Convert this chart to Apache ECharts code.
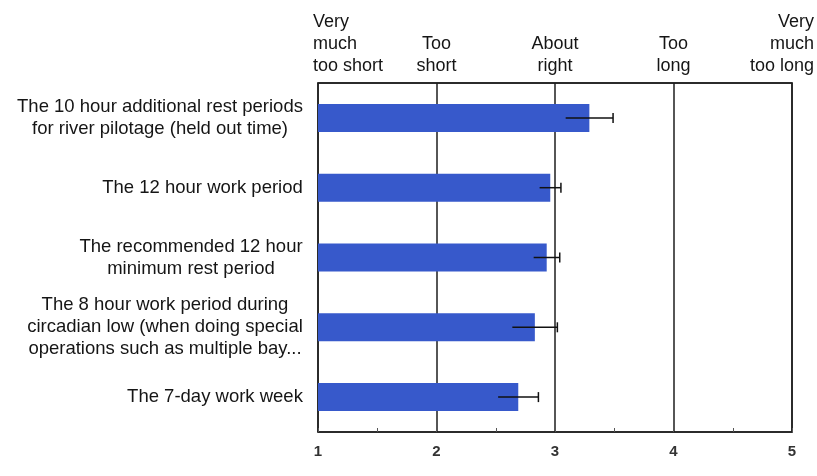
<!DOCTYPE html>
<html><head><meta charset="utf-8">
<script src="https://cdn.jsdelivr.net/npm/echarts@6/dist/echarts.min.js"></script>
<style>html,body{margin:0;padding:0;background:#fff}#c{width:817px;height:476px}</style>
</head><body><div id="c"></div>
<script>
const categories = [
  "The 10 hour additional rest periods\nfor river pilotage (held out time)",
  "The 12 hour work period",
  "The recommended 12 hour\nminimum rest period",
  "The 8 hour work period during\ncircadian low (when doing special\noperations such as multiple bay...",
  "The 7-day work week"
];
const meanValues = [3.29, 2.96, 2.93, 2.83, 2.69];
const errorValues = [0.20, 0.09, 0.11, 0.19, 0.17];
const xTicks = [1, 2, 3, 4, 5];
const topLabels = ["Very\nmuch\ntoo short", "Too\nshort", "About\nright", "Too\nlong", "Very\nmuch\ntoo long"];

const FONT = '"Liberation Sans", Arial, sans-serif';
const LEFT_SIZE = 18.5;
const ctx = document.createElement('canvas').getContext('2d');
ctx.font = LEFT_SIZE + 'px ' + FONT;
const leftRich = {};
categories.forEach((c, i) => {
  const w = Math.max.apply(null, c.split('\n').map(l => ctx.measureText(l).width));
  leftRich['s' + i] = { width: Math.ceil(w), align: 'center', fontSize: LEFT_SIZE, lineHeight: 22, fontFamily: FONT, color: '#151515' };
});

const errData = meanValues.map((m, i) => [i, m, errorValues[i]]);

const chart = echarts.init(document.getElementById('c'), null, { renderer: 'canvas' });
chart.setOption({
  backgroundColor: '#ffffff',
  animation: false,
  grid: { left: 318, right: 24, top: 83, bottom: 44, show: true, borderColor: '#1e1e1e', borderWidth: 1.5, backgroundColor: 'transparent' },
  xAxis: [
    {
      type: 'value', position: 'bottom', min: xTicks[0], max: xTicks[xTicks.length - 1], interval: 1,
      axisLine: { show: true, lineStyle: { color: '#1e1e1e', width: 1.5 } },
      axisTick: { show: true, inside: true, length: 4, lineStyle: { color: '#555' } },
      minorTick: { show: true, splitNumber: 2, length: 4, lineStyle: { color: '#555', width: 1 } },
      splitLine: { show: true, lineStyle: { color: '#1e1e1e', width: 1.5 } },
      axisLabel: {
        margin: 12, color: '#333', fontSize: 15, fontWeight: 'bold', fontFamily: FONT,
        formatter: v => xTicks.indexOf(v) >= 0 ? String(v) : ''
      }
    },
    {
      type: 'value', position: 'top', min: xTicks[0], max: xTicks[xTicks.length - 1], interval: 1,
      axisLine: { show: true, lineStyle: { color: '#1e1e1e', width: 1.5 } },
      axisTick: { show: false },
      splitLine: { show: false },
      axisLabel: {
        margin: 6, color: '#151515', fontSize: 18, lineHeight: 22, fontFamily: FONT,
        showMinLabel: true, showMaxLabel: true,
        alignMinLabel: 'left', alignMaxLabel: 'right',
        formatter: function (v) {
          const i = xTicks.indexOf(v);
          if (i < 0) return '';
          const key = i === 0 ? 'l' : (i === xTicks.length - 1 ? 'r' : 'c');
          return topLabels[i].split('\n').map(l => '{' + key + '|' + l + '}').join('\n');
        },
        rich: {
          l: { align: 'left', padding: [0, 0, 0, -5], fontSize: 18, lineHeight: 22, fontFamily: FONT, color: '#151515' },
          c: { align: 'center', fontSize: 18, lineHeight: 22, fontFamily: FONT, color: '#151515' },
          r: { align: 'right', padding: [0, -22, 0, 0], fontSize: 18, lineHeight: 22, fontFamily: FONT, color: '#151515' }
        }
      }
    }
  ],
  yAxis: {
    type: 'category', inverse: true, data: categories,
    axisLine: { show: false }, axisTick: { show: false }, splitLine: { show: false },
    axisLabel: {
      margin: 15, interval: 0,
      formatter: function (v, idx) {
        return v.split('\n').map(l => '{s' + idx + '|' + l + '}').join('\n');
      },
      rich: leftRich
    }
  },
  series: [
    {
      type: 'bar', data: meanValues, barWidth: 28, xAxisIndex: 0,
      itemStyle: { color: '#3759cb' }, z: 2
    },
    {
      type: 'custom', xAxisIndex: 0, data: errData, z: 5,
      encode: { x: 1, y: 0 },
      renderItem: function (params, api) {
        const idx = api.value(0), m = api.value(1), e = api.value(2);
        const p0 = api.coord([m - e, idx]);
        const p1 = api.coord([m + e, idx]);
        const st = { stroke: '#111', lineWidth: 1.5 };
        return {
          type: 'group',
          children: [
            { type: 'line', shape: { x1: p0[0], y1: p0[1], x2: p1[0], y2: p1[1] }, style: st },
            { type: 'line', shape: { x1: p1[0], y1: p1[1] - 5, x2: p1[0], y2: p1[1] + 5 }, style: st }
          ]
        };
      }
    }
  ]
});
</script>
</body></html>
